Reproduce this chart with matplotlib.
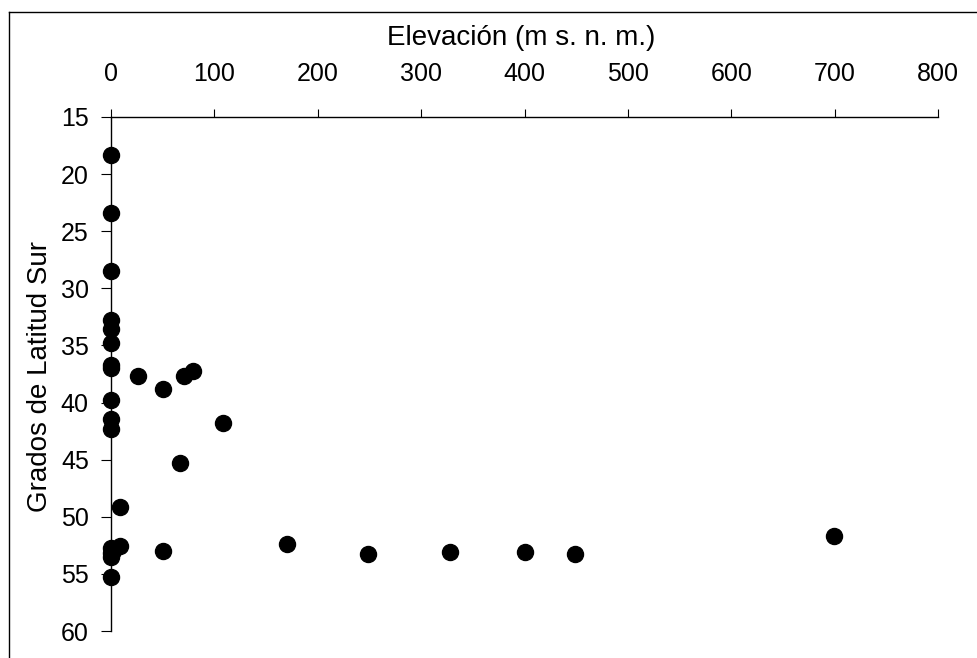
import matplotlib.pyplot as plt
from matplotlib.lines import Line2D

plt.rcParams["font.family"] = ["Liberation Sans", "DejaVu Sans"]

# elevation (m s. n. m.) and degrees south latitude
elevacion = [0, 0, 0, 0, 0, 0, 0, 0,
             26, 50, 71, 79,
             0, 0, 0, 108, 67, 9,
             0, 0, 0, 2, 9, 50, 170, 0,
             249, 328, 400, 449, 699]
latitud = [18.3, 23.4, 28.5, 32.8, 33.6, 34.8, 36.7, 37.0,
           37.7, 38.8, 37.7, 37.2,
           39.8, 41.4, 42.3, 41.8, 45.3, 49.1,
           52.7, 53.2, 53.5, 53.0, 52.6, 53.0, 52.4, 55.3,
           53.3, 53.1, 53.1, 53.3, 51.7]

x_ticks = [0, 100, 200, 300, 400, 500, 600, 700, 800]
y_ticks = [15, 20, 25, 30, 35, 40, 45, 50, 55, 60]

fig = plt.figure(figsize=(9.78, 6.58), dpi=100)
ax = fig.add_axes([0.1135, 0.041, 0.8456, 0.7812])

ax.scatter(elevacion, latitud, s=133, color="black", zorder=3, clip_on=False)

ax.set_xlim(0, 800)
ax.set_ylim(60, 15)
ax.set_xticks(x_ticks)
ax.set_yticks(y_ticks)

ax.xaxis.tick_top()
ax.xaxis.set_label_position("top")
ax.spines["right"].set_visible(False)
ax.spines["bottom"].set_visible(False)
ax.spines["left"].set_linewidth(1)
ax.spines["top"].set_linewidth(1)

ax.tick_params(axis="x", direction="out", length=6, width=0.8, pad=16, labelsize=18)
ax.tick_params(axis="y", direction="out", length=7, width=0.8, pad=9, labelsize=18)

ax.set_xlabel("Elevación (m s. n. m.)", fontsize=20)
ax.set_ylabel("Grados de Latitud Sur", fontsize=20)
ax.xaxis.set_label_coords(0.496, 1.154)
ax.xaxis.label.set_va("center")
ax.yaxis.set_label_coords(-0.086, 0.496)
ax.yaxis.label.set_va("center")

# outer frame of the chart area
fig.add_artist(Line2D([9 / 978, 9 / 978], [0, 1 - 12 / 658], color="black", lw=1))
fig.add_artist(Line2D([9 / 978, 1], [1 - 12 / 658, 1 - 12 / 658], color="black", lw=1))

fig.savefig("out.png", dpi=100)
